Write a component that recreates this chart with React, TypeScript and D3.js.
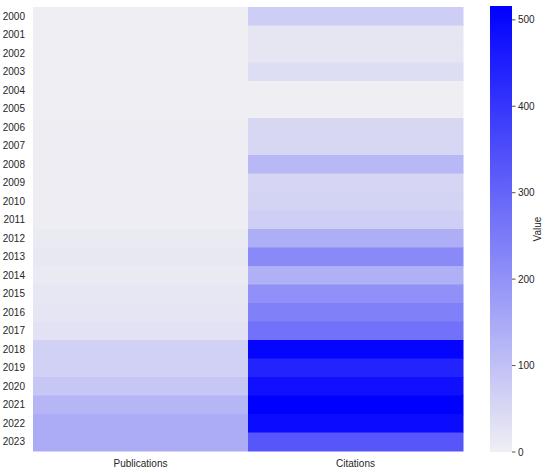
import React from "react";
import * as d3 from "d3";

const years = ["2000","2001","2002","2003","2004","2005","2006","2007","2008","2009","2010","2011","2012","2013","2014","2015","2016","2017","2018","2019","2020","2021","2022","2023"];
const columns = ["Publications", "Citations"];
const publications = [1, 1, 1, 1, 1, 1, 4, 4, 4, 4, 4, 4, 10, 15, 10, 18, 21, 28, 65, 65, 86, 122, 145, 145];
const citations = [74, 20, 20, 39, 0, 0, 52, 52, 118, 55, 60, 70, 140, 221, 135, 205, 240, 273, 505, 440, 482, 516, 492, 330];
const colorTicks = [0, 100, 200, 300, 400, 500];
const vmin = 0;
const vmax = 516;

export default function App() {
  const W = 550, H = 473;
  const left = 33, right = 463, top = 7, bottom = 451;
  const x = d3.scaleBand().domain(columns).range([left, right]).padding(0);
  const y = d3.scaleBand().domain(years).range([top, bottom]).padding(0);
  const color = d3.scaleLinear<string>().domain([vmin, vmax]).range(["#efeff3", "#0000ff"]).interpolate(d3.interpolateRgb);
  const cbX = 490, cbW = 22;
  const cbY = d3.scaleLinear().domain([vmin, vmax]).range([452, 6]);
  const series = [publications, citations];
  const font = "'Liberation Sans', Arial, sans-serif";
  const stops = d3.range(0, 1.0001, 0.05);
  return (
    <svg width={W} height={H} style={{ position: "absolute", left: 0, top: 0, background: "#fff" }} fontFamily={font}>
      <defs>
        <linearGradient id="cb" x1="0" y1="1" x2="0" y2="0">
          {stops.map((s) => (
            <stop key={s} offset={s} stopColor={color(vmin + s * (vmax - vmin))} />
          ))}
        </linearGradient>
      </defs>
      {columns.map((c, ci) =>
        years.map((yr, yi) => (
          <rect key={c + yr} x={x(c)!} y={y(yr)!} width={x.bandwidth() + 0.5} height={y.bandwidth() + 0.5} fill={color(series[ci][yi])} />
        ))
      )}
      {years.map((yr) => (
        <text key={yr} x={25} y={y(yr)! + y.bandwidth() / 2} dy="0.35em" textAnchor="end" fontSize={10} fill="#262626">{yr}</text>
      ))}
      {columns.map((c) => (
        <text key={c} x={x(c)! + x.bandwidth() / 2} y={463} dy="0.35em" textAnchor="middle" fontSize={10} fill="#262626">{c}</text>
      ))}
      <rect x={cbX} y={cbY(vmax)} width={cbW} height={cbY(vmin) - cbY(vmax)} fill="url(#cb)" />
      {colorTicks.map((t) => (
        <g key={t}>
          <line x1={cbX + cbW} x2={cbX + cbW + 3.5} y1={cbY(t)} y2={cbY(t)} stroke="#262626" strokeWidth={0.8} />
          <text x={cbX + cbW + 6} y={cbY(t)} dy="0.35em" fontSize={10} fill="#262626">{t}</text>
        </g>
      ))}
      <text transform={`translate(541,${(cbY(vmin) + cbY(vmax)) / 2}) rotate(-90)`} textAnchor="middle" fontSize={10} fill="#262626">Value</text>
    </svg>
  );
}
